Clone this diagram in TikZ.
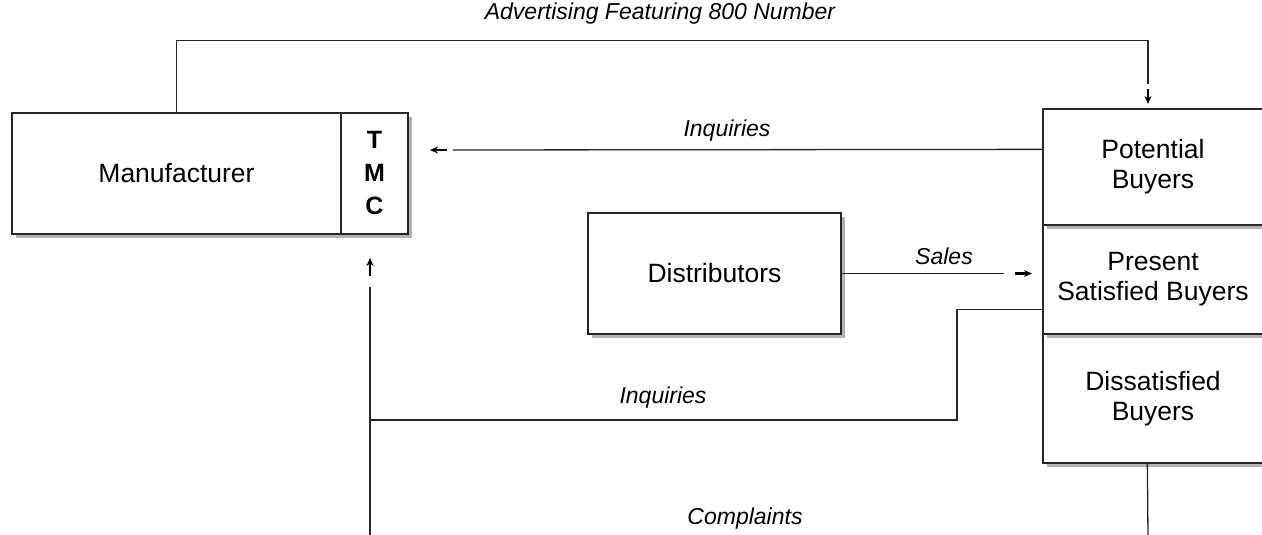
\documentclass[tikz,border=0pt]{standalone}
\usepackage{fontspec}
\setmainfont{Liberation Sans}
\usetikzlibrary{calc}
\usetikzlibrary{arrows.meta}
\usetikzlibrary{shadows}
\tikzset{
  every node/.style = {font = \fontsize{26.5}{30}\selectfont}
}
\tikzset{
    >={Stealth[length=8pt,width=7pt]}
}
\tikzset{
  box/.style = {draw=black!85, line width=1.3pt, fill=white, inner sep=0pt, align=center,
    drop shadow={shadow xshift=4pt, shadow yshift=-4pt, fill=black!30, opacity=1}},
  flow/.style = {draw=black!85, line width=1.3pt},
  tip/.style = {->, line width=2.4pt},
  lbl/.style = {font = \fontsize{23}{28}\selectfont\itshape}
}

\begin{document}
\begin{tikzpicture}[x=1pt,y=-1pt]
\useasboundingbox (0,0) rectangle (1262,535);

% The boxes
\node[box, minimum width=329pt, minimum height=121pt] (mfr) at (176.5,173.5) {Manufacturer};
\node[box, minimum width=67pt, minimum height=121pt, font=\fontsize{25}{33}\selectfont\bfseries] (tmc) at (374.5,173.5) {T\\M\\C};
\node[box, minimum width=253pt, minimum height=121pt] (dist) at (714.5,273.5) {Distributors};
\node[box, minimum width=220pt, minimum height=129pt] (dis) at (1153,398.5) {Dissatisfied\\Buyers};
\node[box, minimum width=220pt, minimum height=109pt] (pres) at (1153,279.5) {Present\\Satisfied Buyers};
\node[box, minimum width=220pt, minimum height=116pt] (pot) at (1153,167) {Potential\\Buyers};

% Points where the lines stop and the arrows sit
\coordinate (adv) at (1148,84);
\coordinate (advA) at (1148,89);
\coordinate (advB) at (1148,104);
\coordinate (inqT) at (453,150);
\coordinate (inqTA) at (447,150);
\coordinate (inqTB) at (430,150);
\coordinate (sal) at (1004,273.5);
\coordinate (salA) at (1015,273.5);
\coordinate (salB) at (1032,273.5);
\coordinate (up) at (370,287);
\coordinate (upA) at (370,276);
\coordinate (upB) at (370,258);
\coordinate (low) at (370,535);
\coordinate (bend) at (957,420);
\coordinate (join) at (370,420);
\coordinate (cmp) at (1148,535);

% Advertising
\draw[flow] (mfr.north) -- ++(0,-72) -| (adv);
\draw[tip] (advA) -- (advB);
\node[lbl] at (660,14) {Advertising Featuring 800 Number};

% Inquiries from potential buyers
\draw[flow] ($(pot.north west)+(0,41)$) -- (inqT);
\draw[tip] (inqTA) -- (inqTB);
\node[lbl] at (727,131) {Inquiries};

% Sales
\draw[flow] (dist.east) -- (sal);
\draw[tip] (salA) -- (salB);
\node[lbl] at (944,256) {Sales};

% Inquiries from present buyers
\draw[flow] ($(pres.north west)+(0,85)$) -| (bend) -- (join);
\draw[flow] (up) -- (low);
\draw[tip] (upA) -- (upB);
\node[lbl] at (663,398) {Inquiries};

% Complaints
\draw[flow] ($(dis.south west)+(105,0)$) -- (cmp);
\node[lbl] at (745,519) {Complaints};
\end{tikzpicture}
\end{document}
